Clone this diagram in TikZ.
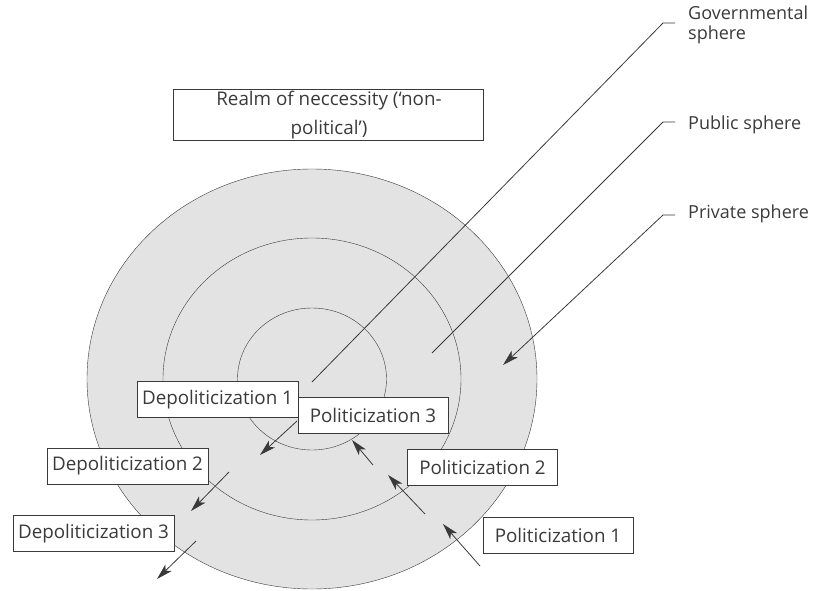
\documentclass[tikz,border=0pt]{standalone}
\usepackage{fontspec}
\setmainfont{Open Sans}
\usetikzlibrary{arrows.meta,positioning}
\definecolor{spherefill}{HTML}{E3E3E3}
\definecolor{ink}{HTML}{3A3A3A}

\begin{document}
\begin{tikzpicture}[x=1pt,y=-1pt,font=\fontsize{18.8}{22}\selectfont,text=ink,
        box/.style={draw=ink,fill=white,minimum height=36,minimum width=150,inner xsep=5},
        tag/.style={anchor=west,inner xsep=13,inner ysep=0,font=\fontsize{18}{20}\selectfont},
        leader/.style={draw=ink,line width=0.8},
        push/.style={leader,-{Stealth[length=16,width=9,inset=4]}}]
        \useasboundingbox (0,0) rectangle (813,591);
        % the three spheres
        \fill[spherefill,draw=ink] (312,379) ellipse [x radius=225,y radius=210];
        \draw[ink] (312,379) ellipse [x radius=149,y radius=141];
        \draw[ink] (312,379) ellipse [x radius=74.5,y radius=71];
        % realm box
        \node[draw=ink,minimum width=310,minimum height=51] (realm) at (328,114.5) {};
        \node[align=center,inner sep=0,font=\fontsize{18.8}{29}\selectfont] (realm_text) at (329,115) {Realm of neccessity (`non-\\political')};
        % sphere labels
        \node[tag,anchor=north west,align=left] (gov) at (675,6) {Governmental\\sphere};
        \node[tag] (pub) at (675,125) {Public sphere};
        \node[tag] (priv) at (675,214) {Private sphere};
        \coordinate (gov_tip) at (312,382);
        \coordinate (gov_bend) at (663,23);
        \coordinate (pub_tip) at (432,353);
        \coordinate (pub_bend) at (663,122);
        \coordinate (priv_tip) at (503,365);
        \coordinate (priv_bend) at (663,215);
        \draw[leader] (gov_tip) -- (gov_bend) -- (gov_bend -| gov.west);
        \draw[leader] (pub_tip) -- (pub_bend) -- (pub_bend -| pub.west);
        \draw[leader,{Stealth[length=16,width=9,inset=4]}-] (priv_tip) -- (priv_bend) -- (priv_bend -| priv.west);
        % (de)politicization boxes
        \node[box] (dep_1) at (217.5,399.5) {Depoliticization 1};
        \node[box] (pol_3) at (373,415) {Politicization 3};
        \node[box] (dep_2) at (127.5,466) {Depoliticization 2};
        \node[box] (pol_2) at (482.5,467) {Politicization 2};
        \node[box] (dep_3) at (93.5,533.5) {Depoliticization 3};
        \node[box] (pol_1) at (558,535) {Politicization 1};
        % arrows
        \coordinate (d1_a) at (297,421); \coordinate (d1_b) at (260,455);
        \coordinate (d2_a) at (229,472); \coordinate (d2_b) at (191,511);
        \coordinate (d3_a) at (196,541); \coordinate (d3_b) at (157,579);
        \coordinate (p3_a) at (373,465); \coordinate (p3_b) at (352,440);
        \coordinate (p2_a) at (425,514); \coordinate (p2_b) at (388,475);
        \coordinate (p1_a) at (480,566); \coordinate (p1_b) at (443,524);
        \foreach \s in {d1,d2,d3,p3,p2,p1}
            \draw[push] (\s_a) -- (\s_b);
    \end{tikzpicture}
\end{document}
